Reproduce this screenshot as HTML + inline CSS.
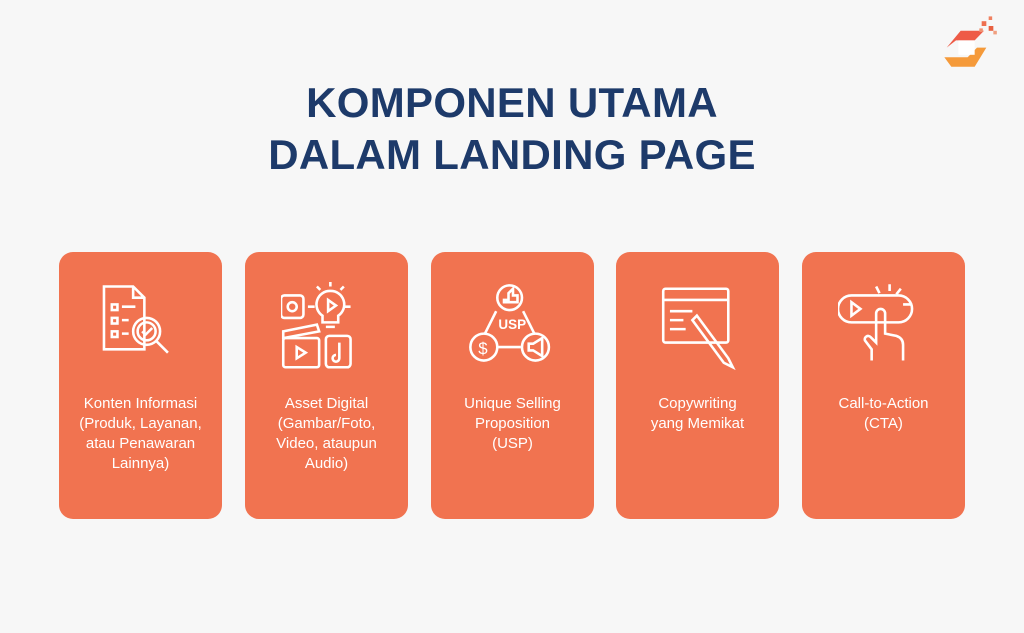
<!DOCTYPE html>
<html><head><style>
body{margin:0;width:1024px;height:633px;background:#f7f7f7;font-family:"Liberation Sans",sans-serif;position:relative;overflow:hidden}
.t{position:absolute;left:0;width:1024px;text-align:center;color:#1d3a6a;font-weight:bold;font-size:42px;letter-spacing:0.3px}
.c{position:absolute;top:252px;width:163px;height:267px;background:#f17350;border-radius:14px}
.c svg{position:absolute;left:36px;top:30px}
.c p{position:absolute;top:142px;left:0;width:100%;margin:0;text-align:center;color:#fff;font-size:15px;line-height:20px}
</style></head><body>
<div class="t" style="top:79px">KOMPONEN UTAMA</div>
<div class="t" style="top:131px">DALAM LANDING PAGE</div>
<svg style="position:absolute;left:935px;top:14px" width="70" height="60" viewBox="0 0 60 50" preserveAspectRatio="none">
<polygon points="10,28 22,14 42,14 34,22 18,22" fill="#ee5b47"/>
<polygon points="8,36 28,36 36,28 44,28 34,44 14,44" fill="#f59a3a"/>
<rect x="20" y="22" width="14" height="12" fill="#fff"/>
<rect x="40" y="6" width="4" height="4" fill="#ee7050"/><rect x="46" y="2" width="3" height="3" fill="#f08060"/><rect x="46" y="10" width="4" height="4" fill="#e86040"/><rect x="38" y="12" width="3" height="3" fill="#f09070"/><rect x="50" y="14" width="3" height="3" fill="#f0a080"/>
</svg>
<div class="c" style="left:59px"><svg width="92" height="92" viewBox="0 0 82 82" fill="none" stroke="#fff" stroke-width="2.3">
<path d="M8 4h26l10 10v46H8z M34 4v10h10"/><rect x="15" y="20" width="5" height="5"/><rect x="15" y="32" width="5" height="5"/><rect x="15" y="44" width="5" height="5"/>
<path d="M24 22h12M24 34h6M24 46h6"/><circle cx="46" cy="44" r="12"/><circle cx="46" cy="44" r="8"/><path d="M42 44l3 3 6-6M55 53l10 10"/></svg>
<p>Konten Informasi<br>(Produk, Layanan,<br>atau Penawaran<br>Lainnya)</p></div>
<div class="c" style="left:245px"><svg width="92" height="92" viewBox="0 0 82 82" fill="none" stroke="#fff" stroke-width="2.3">
<rect x="0" y="12" width="20" height="20" rx="3"/><circle cx="10" cy="22" r="4"/><path d="M24 22h6"/>
<path d="M44 8a12 12 0 0 0-7 22v6h14v-6a12 12 0 0 0-7-22z M40 40h8"/><path d="M42 16v10l7-5z"/><path d="M44 0v4M32 4l3 3M56 4l-3 3M62 22h-5"/>
<rect x="2" y="50" width="32" height="26" rx="2"/><path d="M2 44l30-6 2 6-32 6z M14 58v10l8-5z"/><rect x="40" y="48" width="22" height="28" rx="3"/><path d="M52 54v14a3 3 0 1 1-3-3"/></svg>
<p>Asset Digital<br>(Gambar/Foto,<br>Video, ataupun<br>Audio)</p></div>
<div class="c" style="left:431px"><svg width="92" height="92" viewBox="0 0 82 82" fill="none" stroke="#fff" stroke-width="2.3">
<circle cx="38" cy="14" r="11"/><path d="M33 16h4v-6l4-4v6h4v6h-12z"/><path d="M26 26l-10 20M50 26l10 20M26 58h22"/>
<text x="28" y="42" fill="#fff" stroke="none" font-size="12" font-weight="bold" font-family="Liberation Sans">USP</text>
<circle cx="15" cy="58" r="12"/><text x="10" y="64" fill="#fff" stroke="none" font-size="15" font-family="Liberation Sans">$</text>
<circle cx="61" cy="58" r="12"/><path d="M55 55h4l8-5v16l-8-5h-4z"/></svg>
<p>Unique Selling<br>Proposition<br>(USP)</p></div>
<div class="c" style="left:616px"><svg width="92" height="92" viewBox="0 0 82 82" fill="none" stroke="#fff" stroke-width="2.3">
<rect x="10" y="6" width="58" height="48" rx="2"/><path d="M10 16h58M16 26h20M16 34h12M16 42h14"/>
<path d="M40 30l28 38 4 8-8-4-28-38z"/></svg>
<p>Copywriting<br>yang Memikat</p></div>
<div class="c" style="left:802px"><svg width="92" height="92" viewBox="0 0 82 82" fill="none" stroke="#fff" stroke-width="2.3">
<rect x="0" y="12" width="66" height="24" rx="12"/><path d="M12 18v12l8-6z"/><path d="M34 4l3 6M46 2v6M56 6l-4 5M58 20h8"/>
<path d="M30 70v-10l-6-8a3 3 0 0 1 5-3l5 5v-26a4 4 0 0 1 8 0v18l10 2q6 2 6 8v14"/></svg>
<p>Call-to-Action<br>(CTA)</p></div>
</body></html>
